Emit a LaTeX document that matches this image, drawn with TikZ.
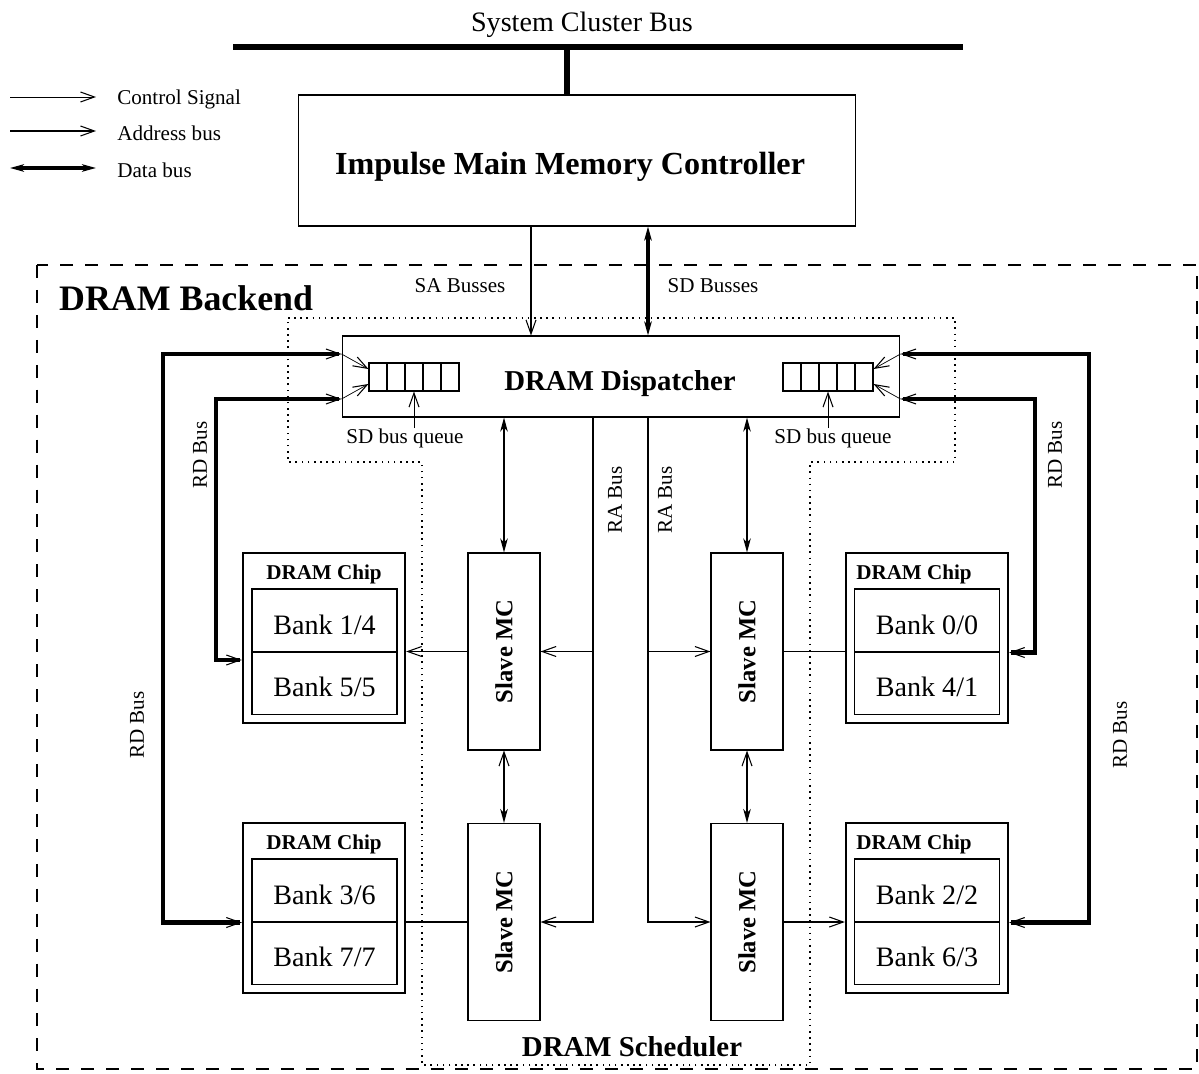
\documentclass[tikz,border=0pt]{standalone}
\usepackage{fontspec}
\setmainfont{Liberation Serif}
\usetikzlibrary{arrows.meta}
\newcommand{\fsHuge}{\fontsize{20.4}{24}\selectfont\bfseries}
\newcommand{\fsBig}{\fontsize{18.3}{22}\selectfont\bfseries}
\newcommand{\fsUnit}{\fontsize{16.4}{20}\selectfont\bfseries}
\newcommand{\fsSlave}{\fontsize{14}{17}\selectfont\bfseries}
\newcommand{\fsBank}{\fontsize{16}{19}\selectfont}
\newcommand{\fsChip}{\fontsize{12}{14}\selectfont\bfseries}
\newcommand{\fsSmall}{\fontsize{12}{14}\selectfont}

\begin{document}
\begin{tikzpicture}[x=0.02cm,y=-0.02cm,
  ob/.tip={Straight Barb[length=2.8mm,width=2mm,line width=0.6pt]},
  fb/.tip={Stealth[length=2.8mm,width=1.5mm,inset=0.8mm]},
  box/.style={draw,line width=0.6pt,inner sep=0pt},
  slavebox/.style={box,minimum width=1.44cm,minimum height=3.94cm},
  chipbox/.style={draw,line width=1.3pt,minimum width=3.24cm,minimum height=3.4cm,inner sep=0pt},
  bankbox/.style={box,minimum width=2.9cm,minimum height=1.26cm,font=\fsBank,text height=15.5pt,text depth=0pt},
  cell/.style={box,minimum width=0.36cm,minimum height=0.56cm},
  lbl/.style={font=\fsSmall,inner sep=0pt},
  ctrl/.style={line width=0.4pt,-ob},
  addr/.style={line width=0.8pt},
  data/.style={line width=2.6pt},
  bus/.style={line width=3.4pt},
]
\useasboundingbox (0,0) rectangle (1199,1074);

% system bus and legend
\node[font=\fontsize{16}{19}\selectfont] (busLbl) at (582,25) {System Cluster Bus};
\coordinate (busL) at (233,47);
\coordinate (busR) at (963,47);
\coordinate (busTap) at (567,47);
\draw[bus] (busL) -- (busR);

\node[lbl,anchor=west] (lgCtrl) at (117,99) {Control Signal};
\node[lbl,anchor=west] (lgAddr) at (117,133) {Address bus};
\node[lbl,anchor=west] (lgData) at (117,170) {Data bus};
\coordinate (lgCtrlS) at (10,97);
\coordinate (lgAddrS) at (10,131);
\coordinate (lgDataS) at (10,168);
\draw[ctrl] (lgCtrlS) -- ++(86,0);
\draw[addr,-ob] (lgAddrS) -- ++(86,0);
\draw[data,fb-fb] (lgDataS) -- ++(86,0);

% main memory controller
\node[box,minimum width=11.16cm,minimum height=2.62cm] (mmc) at (577,160.5) {};
\node[font=\fsBig] (mmcLbl) at (570,166.5) {Impulse Main Memory Controller};
\draw[bus] (busTap) -- (busTap |- mmc.north);

% backend and scheduler outlines
\draw[line width=0.8pt,dash pattern=on 7.4pt off 6.8pt] (37,265) rectangle (1197,1069);
\node[font=\fsHuge,anchor=west] (beLbl) at (53,298) {DRAM Backend};
\draw[line width=0.9pt,dash pattern=on 0.9pt off 2.6pt]
  (288,318) -- (955,318) -- (955,462) -- (810,462) -- (810,1065)
  -- (422,1065) -- (422,462) -- (288,462) -- cycle;
\node[font=\fsUnit] (schLbl) at (632,1047) {DRAM Scheduler};

% dispatcher with its queues
\node[box,minimum width=11.16cm,minimum height=1.62cm] (disp) at (621,376.5) {};
\node[font=\fsUnit] (dispLbl) at (620,384) {DRAM Dispatcher};
\foreach \i in {1,...,5} {
  \node[cell] (qL\i) at (360+18*\i,377) {};
  \node[cell] (qR\i) at (774+18*\i,377) {};
}
\node[lbl] (sqL) at (405,438) {SD bus queue};
\node[lbl] (sqR) at (833,438) {SD bus queue};
\draw[ctrl] (sqL.north -| qL3) -- (qL3.south);
\draw[ctrl] (sqR.north -| qR3) -- (qR3.south);

\draw[addr,-ob] (mmc.south -| 531,0) -- (disp.north -| 531,0);
\draw[data,fb-fb] (mmc.south -| 648,0) -- (disp.north -| 648,0);
\node[lbl] (saLbl) at (460,286) {SA Busses};
\node[lbl] (sdLbl) at (713,286) {SD Busses};

% slave memory controllers
\node[slavebox] (sUL) at (504,651.5) {};
\node[slavebox] (sLL) at (504,922) {};
\node[slavebox] (sUR) at (747,651.5) {};
\node[slavebox] (sLR) at (747,922) {};
\foreach \s in {sUL,sLL,sUR,sLR}
  \node[rotate=90,font=\fsSlave] at (\s) {Slave MC};

\draw[addr,fb-fb] (disp.south -| sUL) -- (sUL.north);
\draw[addr,fb-fb] (disp.south -| sUR) -- (sUR.north);
\draw[addr,ob-fb] (sUL.south) -- (sLL.north);
\draw[addr,ob-fb] (sUR.south) -- (sLR.north);

% DRAM chips
\node[chipbox] (cUL) at (324,638) {};
\node[font=\fsChip] at (324,574) {DRAM Chip};
\node[bankbox] (b14) at (324.5,620.5) {Bank 1/4};
\node[bankbox] (b55) at (324.5,683) {Bank 5/5};

\node[chipbox] (cLL) at (324,908) {};
\node[font=\fsChip] at (324,844) {DRAM Chip};
\node[bankbox] (b36) at (324.5,890.5) {Bank 3/6};
\node[bankbox] (b77) at (324.5,953) {Bank 7/7};

\node[chipbox] (cUR) at (927,638) {};
\node[font=\fsChip] at (914,574) {DRAM Chip};
\node[bankbox] (b00) at (927,620.5) {Bank 0/0};
\node[bankbox] (b41) at (927,683) {Bank 4/1};

\node[chipbox] (cLR) at (927,908) {};
\node[font=\fsChip] at (914,844) {DRAM Chip};
\node[bankbox] (b22) at (927,890.5) {Bank 2/2};
\node[bankbox] (b63) at (927,953) {Bank 6/3};

% RA busses
\coordinate (raL) at (593,922);
\coordinate (raR) at (648,922);
\draw[addr,-ob] (disp.south -| raL) -- (raL) -- (sLL.east);
\draw[addr,-ob] (sUL.east -| raL) -- (sUL.east);
\draw[addr,-ob] (disp.south -| raR) -- (raR) -- (sLR.west);
\draw[addr,-ob] (sUR.west -| raR) -- (sUR.west);
\node[lbl,rotate=90] (raLLbl) at (615,500) {RA Bus};
\node[lbl,rotate=90] (raRLbl) at (665,500) {RA Bus};

% slave MC to chip
\draw[addr,-ob] (sUL.west) -- (sUL.west -| cUL.east);
\draw[addr] (sLL.west) -- (sLL.west -| cLL.east);
\draw[addr] (sUR.east) -- (sUR.east -| cUR.west);
\draw[addr,-ob] (sLR.east) -- (sLR.east -| cLR.west);

% RD busses
\coordinate (rdLo) at (163,354);
\coordinate (rdLi) at (216,399);
\coordinate (rdRo) at (1089,354);
\coordinate (rdRi) at (1035,399);
\draw[data,ob-ob] (disp.west |- rdLo) -- (rdLo) |- (cLL.west |- b36.south);
\draw[data,ob-ob] (disp.west |- rdLi) -- (rdLi) |- (cUL.west |- 0,660);
\draw[data,ob-ob] (disp.east |- rdRo) -- (rdRo) |- (cLR.east |- b22.south);
\draw[data,ob-ob] (disp.east |- rdRi) -- (rdRi) |- (cUR.east |- b00.south);
\draw[ctrl] (disp.west |- rdLo) -- (qL1.west |- 0,369);
\draw[ctrl] (disp.west |- rdLi) -- (qL1.west |- 0,384);
\draw[ctrl] (disp.east |- rdRo) -- (qR5.east |- 0,369);
\draw[ctrl] (disp.east |- rdRi) -- (qR5.east |- 0,384);
\node[lbl,rotate=90] (rdLiLbl) at (200,455) {RD Bus};
\node[lbl,rotate=90] (rdLoLbl) at (137,725) {RD Bus};
\node[lbl,rotate=90] (rdRiLbl) at (1055,455) {RD Bus};
\node[lbl,rotate=90] (rdRoLbl) at (1120,735) {RD Bus};

\end{tikzpicture}
\end{document}
